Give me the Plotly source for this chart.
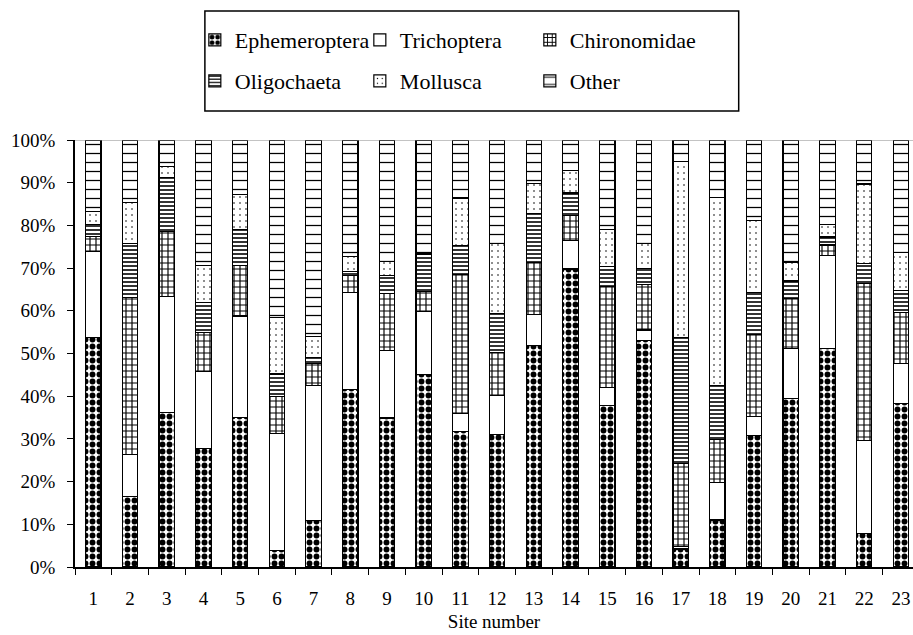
import plotly.graph_objects as go

sites = list(range(1, 24))
ephemeroptera = [53.8, 16.5, 36.2, 27.8, 35.0, 3.8, 10.8, 41.6, 34.9, 45.0, 31.8, 31.0,
                 51.8, 69.8, 37.8, 53.0, 4.2, 11.0, 30.8, 39.5, 51.1, 7.8, 38.2]
trichoptera = [20.1, 9.9, 27.2, 18.0, 23.8, 27.5, 31.7, 22.7, 15.8, 14.8, 4.2, 9.2,
               7.4, 6.6, 4.2, 2.5, 0.6, 8.8, 4.4, 11.6, 21.9, 21.8, 9.5]
chironomidae = [3.5, 36.8, 15.1, 9.2, 11.8, 8.7, 5.1, 3.9, 13.3, 4.7, 32.5, 10.1,
                12.2, 5.9, 23.7, 10.6, 19.4, 10.0, 19.2, 11.7, 2.4, 36.8, 11.9]
oligochaeta = [2.8, 12.5, 12.7, 7.0, 8.4, 5.2, 1.4, 1.0, 4.3, 8.8, 6.8, 9.1,
               11.4, 5.3, 4.7, 3.8, 29.6, 12.8, 9.9, 4.2, 1.9, 4.7, 5.1]
mollusca = [3.1, 9.7, 2.6, 8.7, 8.2, 13.3, 5.0, 3.5, 3.2, 0.2, 11.1, 16.3,
            7.0, 5.2, 8.7, 5.8, 41.2, 44.0, 16.8, 4.4, 2.9, 18.6, 8.9]
other = [16.7, 14.6, 6.2, 29.3, 12.8, 41.5, 46.0, 27.3, 28.5, 26.5, 13.6, 24.3,
         10.2, 7.2, 20.9, 24.3, 5.0, 13.4, 18.9, 28.6, 19.8, 10.3, 26.4]

y_ticks = [0, 10, 20, 30, 40, 50, 60, 70, 80, 90, 100]

series = [
    ("Ephemeroptera", ephemeroptera, dict(shape=".", size=7, solidity=0.55), "legend", 120),
    ("Trichoptera", trichoptera, None, "legend", 125),
    ("Chironomidae", chironomidae, dict(shape="+", size=6, solidity=0.35), "legend", 130),
    ("Oligochaeta", oligochaeta, dict(shape="-", size=4, solidity=0.4), "legend2", 120),
    ("Mollusca", mollusca, dict(shape=".", size=6, solidity=0.06), "legend2", 125),
    ("Other", other, dict(shape="-", size=9, solidity=0.14), "legend2", 130),
]

FONT = "Liberation Serif, Times New Roman, Times, serif"
fig = go.Figure()
for name, vals, pat, leg, lw in series:
    marker = dict(color="white", line=dict(color="black", width=1.2))
    if pat:
        p = dict(pat)
        p.update(fgcolor="black", bgcolor="white", fillmode="replace")
        marker["pattern"] = p
    fig.add_trace(go.Bar(x=sites, y=vals, name=name, width=0.42, marker=marker,
                         legend=leg, legendwidth=lw))

legend_font = dict(family=FONT, size=22, color="black")
fig.update_layout(
    width=913, height=635,
    barmode="stack",
    plot_bgcolor="white", paper_bgcolor="white",
    margin=dict(l=75, r=0, t=140, b=68),
    font=dict(family=FONT, size=19, color="black"),
    showlegend=True,
    legend=dict(orientation="h", x=0.143, y=1.234, xanchor="left", yanchor="middle",
                font=legend_font, bgcolor="rgba(0,0,0,0)", traceorder="normal"),
    legend2=dict(orientation="h", x=0.143, y=1.138, xanchor="left", yanchor="middle",
                 font=legend_font, bgcolor="rgba(0,0,0,0)", traceorder="normal"),
    shapes=[
        dict(type="rect", xref="paper", yref="paper", x0=0.155, x1=0.792, y0=1.068, y1=1.302,
             line=dict(color="black", width=1.5), fillcolor="rgba(0,0,0,0)"),
        dict(type="line", xref="paper", yref="y", x0=0, x1=1, y0=100, y1=100,
             line=dict(color="#888888", width=1)),
    ],
)

fig.update_xaxes(
    range=[0.5, 23.33], tickmode="array", tickvals=sites, ticktext=[str(s) for s in sites],
    ticks="outside", ticklen=0, showgrid=False, zeroline=False,
    showline=True, linecolor="black", linewidth=1.5,
    ticklabelstandoff=13,
    minor=dict(tick0=0.5, dtick=1, ticks="outside", ticklen=6, tickcolor="black", tickwidth=1.2, showgrid=False),
    title=dict(text="Site number", font=dict(family=FONT, size=19), standoff=7),
    tickfont=dict(family=FONT, size=19),
)
fig.update_yaxes(
    range=[0, 100], tickmode="array", tickvals=y_ticks, ticktext=[f"{v}%" for v in y_ticks],
    ticks="outside", ticklen=6, tickcolor="black", tickwidth=1.2,
    showgrid=False, zeroline=False, showline=True, linecolor="black", linewidth=1.5,
    ticklabelstandoff=8,
    tickfont=dict(family=FONT, size=19),
)

fig.write_html("out.html", config={"displayModeBar": False},
               post_script="document.body.style.margin='0';document.body.style.overflow='hidden';")
